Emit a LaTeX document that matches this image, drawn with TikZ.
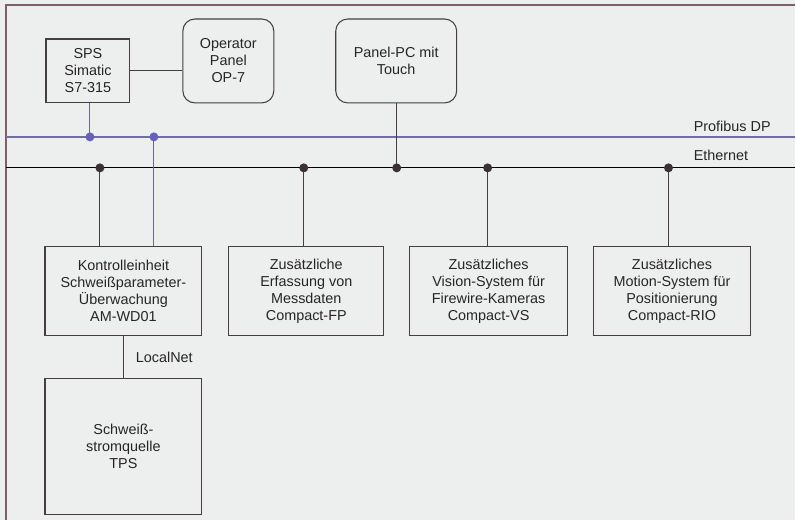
\documentclass[tikz,border=0pt]{standalone}
\usepackage{fontspec}
\setmainfont{Liberation Sans}
\definecolor{paper}{RGB}{236,239,237}
\definecolor{frameline}{RGB}{125,95,105}
\definecolor{boxline}{RGB}{70,62,66}
\definecolor{dotdark}{RGB}{60,48,55}
\definecolor{profi}{RGB}{105,95,190}
\definecolor{inktext}{RGB}{40,36,38}
\begin{document}
\begin{tikzpicture}[x=0.02cm, y=-0.02cm,
    every node/.style={font=\fontsize{8.2}{9.7}\selectfont, align=center, inner sep=0pt, text=inktext},
    unit/.style={draw=boxline, line width=0.6pt, fill=paper},
    panel/.style={unit, rounded corners=0.24cm},
    bus/.style={line width=0.7pt},
    jdot/.style={circle, fill=dotdark, minimum size=0.18cm},
    pdot/.style={circle, fill=profi, minimum size=0.18cm}]
    % Background and frame
    \fill[paper] (0,0) rectangle (796,520);
    \draw[frameline, line width=0.6pt] (6,520) -- (6,5) -- (796,5);

    % Top row
    \node[unit, minimum width=1.68cm, minimum height=1.28cm] (sps) at (88,71) {SPS\\Simatic\\S7-315};
    \node[panel, minimum width=1.82cm, minimum height=1.68cm] (op) at (228.5,61) {Operator\\Panel\\OP-7};
    \node[panel, minimum width=2.42cm, minimum height=1.68cm] (pc) at (396.5,61) {Panel-PC mit\\Touch};
    \draw[boxline, line width=0.6pt] (sps.east) -- (sps.east -| op.west);

    % Buses
    \coordinate (pl) at (6,137);
    \coordinate (pr) at (796,137);
    \coordinate (el) at (6,168);
    \coordinate (er) at (796,168);
    \draw[bus, profi!55!gray] (pl) -- (pr);
    \draw[bus, black] (el) -- (er);
    \node[anchor=south west] (profilbl) at (694,132) {Profibus DP};
    \node[anchor=south west] (ethlbl) at (694,161) {Ethernet};

    % Lower row
    \node[unit, minimum width=3.14cm, minimum height=1.78cm] (ku) at (123.5,291.5) {Kontrolleinheit\\Schweißparameter-\\Überwachung\\AM-WD01};
    \node[unit, minimum width=3.1cm, minimum height=1.78cm] (fp) at (306.5,291.5) {Zusätzliche\\Erfassung von\\Messdaten\\Compact-FP};
    \node[unit, minimum width=3.16cm, minimum height=1.78cm] (vs) at (489,291.5) {Zusätzliches\\Vision-System für\\Firewire-Kameras\\Compact-VS};
    \node[unit, minimum width=3.14cm, minimum height=1.78cm] (rio) at (672.5,291.5) {Zusätzliches\\Motion-System für\\Positionierung\\Compact-RIO};
    \node[unit, minimum width=3.14cm, minimum height=2.72cm] (tps) at (123.5,447) {Schweiß-\\stromquelle\\TPS};

    % Ethernet taps
    \coordinate (e1) at (100,168);
    \coordinate (e2) at (304,168);
    \coordinate (e3) at (397,168);
    \coordinate (e4) at (488,168);
    \coordinate (e5) at (669,168);
    \draw[boxline, line width=0.6pt] (e1) -- (e1 |- ku.north);
    \draw[boxline, line width=0.6pt] (e2) -- (e2 |- fp.north);
    \draw[boxline, line width=0.6pt] (pc.south -| e3) -- (e3);
    \draw[boxline, line width=0.6pt] (e4) -- (e4 |- vs.north);
    \draw[boxline, line width=0.6pt] (e5) -- (e5 |- rio.north);
    \foreach \t in {e1,e2,e3,e4,e5}
        \node[jdot] at (\t) {};

    % Profibus taps
    \coordinate (p1) at (90,137);
    \coordinate (p2) at (154,137);
    \draw[profi, line width=0.6pt] (sps.south -| p1) -- (p1);
    \draw[profi, line width=0.6pt] (p2) -- (p2 |- ku.north);
    \node[pdot] (pd1) at (p1) {};
    \node[pdot] (pd2) at (p2) {};

    % LocalNet
    \draw[boxline, line width=0.6pt] (ku.south) -- (tps.north) node[midway, right=0.24cm, text=inktext] (lnet) {LocalNet};
\end{tikzpicture}
\end{document}
